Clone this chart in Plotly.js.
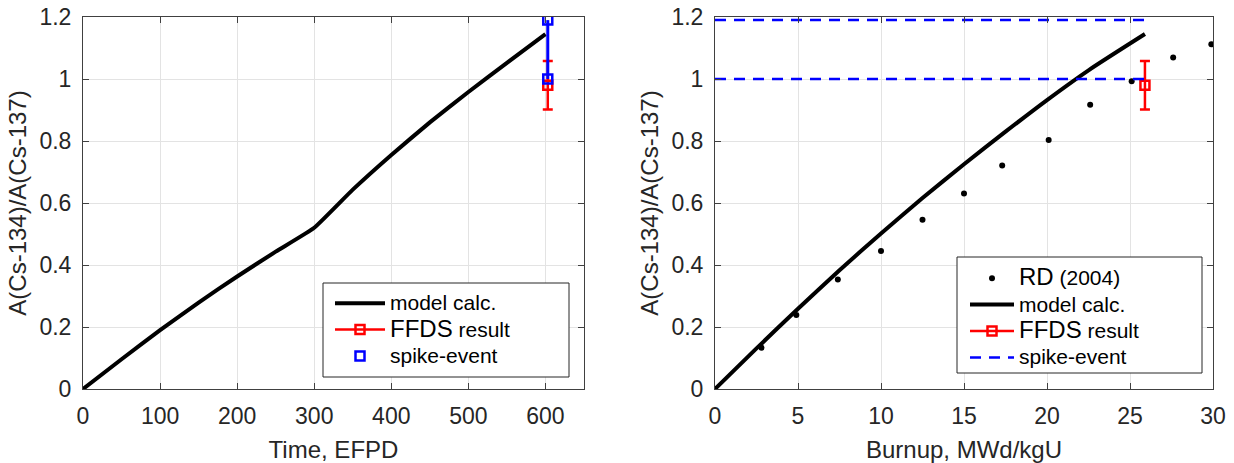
<!DOCTYPE html>
<html>
<head>
<meta charset="utf-8">
<script src="https://cdn.plot.ly/plotly-3.0.1.min.js"></script>
<style>
html,body{margin:0;padding:0;background:#fff;overflow:hidden;}
#chart{width:1234px;height:463px;}
</style>
</head>
<body>
<div id="chart"></div>
<script>
// Left panel: ratio vs time
var timeEFPD = [0, 50, 100, 150, 200, 250, 300, 350, 400, 450, 500, 550, 600];
var ratioModelTime = [0, 0.096, 0.19, 0.279, 0.363, 0.443, 0.52, 0.643, 0.755, 0.86, 0.958, 1.052, 1.145];
var ffdsTimeX = [603];
var ffdsY = [0.98];
var ffdsErr = [0.078];
var spikeTimeX = [603, 603];
var spikeY = [1.19, 1.0];

// Right panel: ratio vs burnup
var burnupModel = [0, 2.5, 5, 7.5, 10, 12.5, 15, 17.5, 20, 22.5, 25.9];
var ratioModelBurnup = [0, 0.131, 0.259, 0.383, 0.502, 0.616, 0.725, 0.830, 0.932, 1.028, 1.145];
var rdBurnup = [2.8, 4.9, 7.4, 10.0, 12.5, 15.0, 17.3, 20.1, 22.6, 25.1, 27.6, 29.9];
var rdRatio = [0.133, 0.239, 0.353, 0.445, 0.546, 0.631, 0.721, 0.803, 0.917, 0.993, 1.069, 1.112];
var ffdsBurnupX = [25.9];
var spikeBurnupX = [0, 25.9, null, 0, 25.9];
var spikeBurnupY = [1.19, 1.19, null, 1.0, 1.0];

var xTicksTime = [0, 100, 200, 300, 400, 500, 600];
var xTicksBurnup = [0, 5, 10, 15, 20, 25, 30];
var yTicks = [0, 0.2, 0.4, 0.6, 0.8, 1, 1.2];

var W = 1234, H = 463;
var red = '#ff0000', blue = '#0000ff';
var fontFam = 'Liberation Sans, Arial, sans-serif';
function lg(t) { return '<span style="font-size:21px">' + t + '</span>'; }
function bigLg(t) { return '<span style="font-size:24px">' + t + '</span>'; }

var traces = [
  {x: timeEFPD, y: ratioModelTime, mode: 'lines', name: lg('model calc.'), line: {color: '#000', width: 4, shape: 'spline', smoothing: 0.4}, xaxis: 'x', yaxis: 'y', legend: 'legend'},
  {x: ffdsTimeX, y: ffdsY, mode: 'lines+markers', name: bigLg('FFDS') + lg(' result'),
   line: {color: red, width: 2.5}, marker: {symbol: 'square-open', size: 9, color: red, line: {width: 2.5}},
   error_y: {type: 'data', array: ffdsErr, color: red, thickness: 2.5, width: 5}, xaxis: 'x', yaxis: 'y', legend: 'legend'},
  {x: spikeTimeX, y: spikeY, mode: 'lines', showlegend: false, line: {color: blue, width: 3}, xaxis: 'x', yaxis: 'y', hoverinfo: 'skip'},
  {x: spikeTimeX, y: spikeY, mode: 'markers', name: lg('spike-event'), marker: {symbol: 'square-open', size: 9, color: blue, line: {width: 2.5, color: blue}}, xaxis: 'x', yaxis: 'y', legend: 'legend'},

  {x: rdBurnup, y: rdRatio, mode: 'markers', name: bigLg('RD') + lg(' (2004)'), marker: {color: '#000', size: 6}, xaxis: 'x2', yaxis: 'y2', legend: 'legend2'},
  {x: burnupModel, y: ratioModelBurnup, mode: 'lines', name: lg('model calc.'), line: {color: '#000', width: 4, shape: 'spline', smoothing: 0.6}, xaxis: 'x2', yaxis: 'y2', legend: 'legend2'},
  {x: ffdsBurnupX, y: ffdsY, mode: 'lines+markers', name: bigLg('FFDS') + lg(' result'),
   line: {color: red, width: 2.5}, marker: {symbol: 'square-open', size: 9, color: red, line: {width: 2.5}},
   error_y: {type: 'data', array: ffdsErr, color: red, thickness: 2.5, width: 5}, xaxis: 'x2', yaxis: 'y2', legend: 'legend2'},
  {x: spikeBurnupX, y: spikeBurnupY, mode: 'lines', name: lg('spike-event'), line: {color: blue, width: 2.5, dash: '11px,8px'}, connectgaps: false, xaxis: 'x2', yaxis: 'y2', legend: 'legend2'}
];

function ax(domain, range, ticks, anchor, titleText, standoff) {
  return {
    domain: domain, range: range, tickvals: ticks, anchor: anchor,
    showgrid: true, gridcolor: '#e3e3e3', gridwidth: 1,
    showline: true, linecolor: '#404040', linewidth: 1, mirror: 'ticks',
    ticks: 'inside', ticklen: 6, tickcolor: '#404040', zeroline: false,
    tickfont: {family: fontFam, size: 23, color: '#262626'},
    title: {text: titleText, font: {family: fontFam, size: 24, color: '#262626'}, standoff: standoff},
    automargin: false, fixedrange: true
  };
}

var yDom = [(H - 389) / H, (H - 17) / H];
var xax1 = ax([83 / W, 584 / W], [0, 650], xTicksTime, 'y', 'Time, EFPD', 16);
var xax2 = ax([715 / W, 1213 / W], [0, 30], xTicksBurnup, 'y2', 'Burnup, MWd/kgU', 16);
var yax1 = ax(yDom, [0, 1.2], yTicks, 'x', 'A(Cs-134)/A(Cs-137)', 6);
var yax2 = ax(yDom, [0, 1.2], yTicks, 'x2', 'A(Cs-134)/A(Cs-137)', 6);
xax1.ticklabelstandoff = 6; xax2.ticklabelstandoff = 6;
yax1.ticklabelstandoff = 6; yax2.ticklabelstandoff = 6;

var layout = {
  width: W, height: H,
  margin: {l: 0, r: 0, t: 0, b: 0},
  paper_bgcolor: '#fff', plot_bgcolor: '#fff',
  showlegend: true,
  xaxis: xax1, yaxis: yax1, xaxis2: xax2, yaxis2: yax2,
  shapes: [
    {type: 'rect', xref: 'paper', yref: 'paper', x0: 323 / W, x1: 569 / W, y0: 1 - 377 / H, y1: 1 - 283 / H,
     fillcolor: '#fff', line: {color: '#262626', width: 1}, layer: 'above'},
    {type: 'rect', xref: 'paper', yref: 'paper', x0: 957 / W, x1: 1202 / W, y0: 1 - 373 / H, y1: 1 - 257 / H,
     fillcolor: '#fff', line: {color: '#262626', width: 1}, layer: 'above'}
  ],
  legend: {x: 330 / W, y: 1 - 285 / H, xanchor: 'left', yanchor: 'top', bgcolor: 'rgba(0,0,0,0)', borderwidth: 0,
    font: {family: fontFam, size: 18, color: '#000'}, tracegroupgap: 0, itemwidth: 50},
  legend2: {x: 965 / W, y: 1 - 260 / H, xanchor: 'left', yanchor: 'top', bgcolor: 'rgba(0,0,0,0)', borderwidth: 0,
    font: {family: fontFam, size: 18, color: '#000'}, tracegroupgap: 0, itemwidth: 44}
};

Plotly.newPlot('chart', traces, layout, {displayModeBar: false, staticPlot: true});
</script>
</body>
</html>
